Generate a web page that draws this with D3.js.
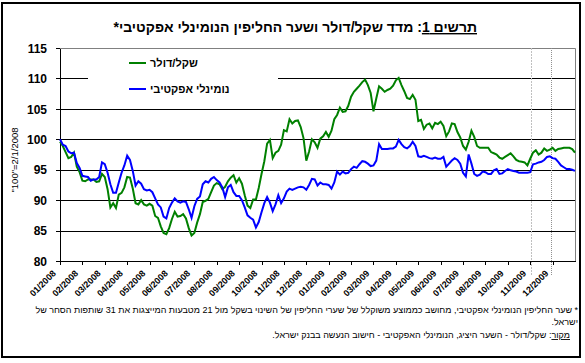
<!DOCTYPE html>
<html><head><meta charset="utf-8">
<script src="https://cdn.jsdelivr.net/npm/d3@7"></script>
<style>
body{margin:0;background:#fff}
svg{display:block}
text{font-family:Arial,"Liberation Sans","DejaVu Sans",sans-serif}
</style>
</head><body>
<svg id="chart" width="585" height="363"></svg>
<script>
// ---- data ----
const tickLabels = ["01/2008","02/2008","03/2008","04/2008","05/2008","06/2008","07/2008","08/2008","09/2008","10/2008","11/2008","12/2008",
  "01/2009","02/2009","03/2009","04/2009","05/2009","06/2009","07/2009","08/2009","10/2009","11/2009","12/2009"];
const pointsPerTick = 8;
const shekelDollar = [
 99.6, 98.9, 97.9, 96.9, 97.1, 97.8, 95.5, 94.6, 93.2, 93.1,
 93.4, 93.4, 93.4, 93.0, 93.1, 94.3, 93.8, 91.8, 88.8, 89.5,
 88.7, 90.9, 91.2, 92.1, 93.8, 93.7, 91.9, 89.5, 89.3, 90.0,
 89.3, 89.1, 89.4, 89.1, 87.4, 87.1, 85.7, 84.6, 84.4, 85.4,
 86.9, 88.1, 87.3, 87.4, 87.7, 87.0, 85.4, 84.2, 84.6, 86.3,
 87.7, 89.7, 89.9, 90.2, 91.3, 92.4, 92.8, 92.6, 91.8, 92.2,
 93.1, 93.7, 94.1, 92.9, 93.6, 92.7, 90.8, 89.1, 88.7, 90.1,
 90.1, 92.0, 94.3, 96.4, 99.3, 99.9, 96.9, 97.8, 98.1, 99.1,
 101.5, 101.3, 103.3, 102.6, 103.0, 103.1, 102.0, 100.2, 96.5, 98.0,
 100.0, 99.5, 98.6, 100.1, 100.5, 101.2, 100.4, 101.4, 103.3, 104.0,
 105.2, 104.5, 104.6, 105.5, 107.0, 107.8, 108.3, 108.8, 109.4, 109.8,
 108.9, 107.6, 104.6, 106.7, 108.7, 108.3, 107.8, 108.1, 108.3, 108.8,
 109.7, 110.1, 108.9, 107.9, 106.8, 106.6, 107.3, 106.5, 103.0, 103.2,
 101.7, 102.4, 102.6, 101.8, 102.7, 102.5, 102.9, 102.2, 100.5, 101.3,
 102.6, 102.5, 101.2, 100.3, 98.9, 98.3, 99.6, 101.4, 100.4, 98.9,
 98.6, 98.6, 98.6, 98.6, 97.9, 97.7, 97.5, 97.0, 96.8, 97.1,
 97.4, 97.7, 97.2, 96.6, 96.4, 96.3, 96.2, 95.7, 96.8, 97.8,
 98.2, 97.5, 97.8, 98.5, 98.1, 98.3, 98.6, 98.1, 98.4, 98.5,
 98.6, 98.6, 98.6, 98.4, 97.8];
const nominalEffective = [
 100.0, 99.1, 98.9, 98.0, 97.7, 97.8, 96.1, 95.3, 94.0, 93.9,
 93.8, 93.2, 93.4, 93.4, 93.8, 96.2, 95.9, 94.5, 92.6, 91.2,
 91.2, 92.9, 94.5, 95.7, 97.3, 96.6, 94.8, 92.4, 93.1, 92.7,
 91.8, 91.6, 91.7, 91.3, 90.3, 89.3, 88.8, 87.3, 87.0, 88.7,
 89.6, 90.3, 89.8, 89.6, 89.8, 89.7, 88.5, 87.1, 89.0, 90.2,
 90.6, 92.6, 93.1, 92.9, 93.5, 93.8, 93.3, 92.9, 92.1, 90.5,
 92.1, 92.5, 91.3, 90.7, 90.7, 90.0, 88.8, 87.5, 87.1, 86.8,
 85.5, 86.4, 88.0, 89.5, 90.5, 89.6, 88.2, 89.3, 90.8, 89.5,
 90.3, 91.4, 91.9, 91.7, 91.9, 92.1, 92.2, 92.1, 91.7, 92.5,
 93.5, 93.4, 92.4, 92.9, 92.6, 92.6, 92.5, 91.9, 92.9, 94.7,
 94.2, 94.7, 94.4, 94.5, 95.1, 95.5, 95.3, 95.9, 96.4, 96.3,
 96.0, 95.6, 95.7, 96.5, 99.2, 98.4, 98.4, 98.4, 98.5, 98.5,
 98.8, 99.9, 99.2, 98.7, 98.5, 98.9, 99.6, 98.9, 97.2, 97.1,
 97.3, 97.1, 96.9, 96.8, 97.0, 96.8, 96.8, 97.1, 95.5, 96.0,
 96.5, 96.9, 96.6, 96.0, 94.5, 93.9, 97.5, 96.0, 94.3, 94.0,
 94.2, 94.7, 94.6, 94.3, 94.3, 94.9, 95.1, 94.3, 94.4, 94.8,
 95.1, 94.9, 94.8, 94.7, 94.5, 94.5, 94.5, 94.5, 94.6, 95.9,
 96.0, 96.2, 96.3, 96.6, 97.1, 97.2, 96.9, 96.8, 96.3, 95.7,
 95.4, 95.1, 95.1, 95.0, 94.8];
const yTicks = [80, 85, 90, 95, 100, 105, 110, 115];
const markerPoints = [168.2, 175.4];
const seriesNames = ["שקל/דולר", "נומינלי אפקטיבי"];
const seriesColors = ["#008000", "#0000ff"];
const titleMain = "תרשים 1";
const titleRest = ": מדד שקל/דולר ושער החליפין הנומינלי אפקטיבי*";
const yTitle = "\"100\"=2/1/2008";
const note1 = "* שער החליפין הנומינלי אפקטיבי, מחושב כממוצע משוקלל של שערי החליפין של השינוי בשקל מול 21 מטבעות המייצגות את 31 שותפות הסחר של";
const note2 = "ישראל.";
const sourceLabel = "מקור";
const sourceText = ": שקל/דולר - השער היציג, הנומינלי האפקטיבי - חישוב הנעשה בבנק ישראל.";

// ---- layout ----
const svg = d3.select("#chart");
const L = 60, R = 575, T = 48, B = 261;
const n = shekelDollar.length;
const x = d3.scaleLinear().domain([0, n - 1]).range([L, R]);
const y = d3.scaleLinear().domain([80, 115]).range([B, T]);

// outer frame
svg.append("rect").attr("x", 2).attr("y", 3).attr("width", 578).attr("height", 354)
  .attr("fill", "#fff").attr("stroke", "#000").attr("stroke-width", 2);

// gridlines
svg.append("g").selectAll("line").data(yTicks.filter(v => v > 80 && v < 115)).join("line")
  .attr("x1", L).attr("x2", R).attr("y1", d => Math.round(y(d)) + 0.5).attr("y2", d => Math.round(y(d)) + 0.5)
  .attr("stroke", "#000").attr("stroke-width", 1);
// plot border top/right gray
svg.append("path").attr("d", `M${L},${T + 0.5}H${R + 0.5}V${B}`).attr("fill", "none")
  .attr("stroke", "#808080").attr("stroke-width", 1);

// legend background (covers gridline)
svg.append("rect").attr("x", 88).attr("y", 52).attr("width", 190).attr("height", 48).attr("fill", "#fff");

// marker dotted lines
svg.append("g").selectAll("line").data(markerPoints).join("line")
  .attr("x1", d => Math.round(x(d)) + 0.5).attr("x2", d => Math.round(x(d)) + 0.5)
  .attr("y1", T).attr("y2", 275)
  .attr("stroke", (d, i) => i === 0 ? "#c0c0c0" : "#909090")
  .attr("stroke-width", 1).attr("stroke-dasharray", (d, i) => i === 0 ? "2,1" : "1,1");

// axes
const tickIdx = tickLabels.map((d, i) => i * pointsPerTick);
const xAxis = svg.append("g").attr("transform", `translate(0,${B})`)
  .call(d3.axisBottom(x).tickValues(tickIdx).tickSize(4).tickSizeOuter(0)
    .tickFormat((d, i) => tickLabels[i]));
xAxis.select(".domain").attr("stroke", "#000").attr("shape-rendering", "crispEdges");
xAxis.selectAll(".tick line").attr("stroke", "#000").attr("shape-rendering", "crispEdges");
xAxis.selectAll(".tick text")
  .attr("font-size", 9).attr("font-weight", "bold").attr("fill", "#000")
  .attr("text-anchor", "end").attr("x", 0).attr("dx", 0).attr("y", 0).attr("dy", 0)
  .attr("transform", "translate(-4,13) rotate(-45)");

const yAxis = svg.append("g").attr("transform", `translate(${L},0)`)
  .call(d3.axisLeft(y).tickValues(yTicks).tickSize(4).tickSizeOuter(0).tickFormat(d3.format("d")));
yAxis.select(".domain").attr("stroke", "#000").attr("shape-rendering", "crispEdges");
yAxis.selectAll(".tick line").attr("stroke", "#000").attr("shape-rendering", "crispEdges");
yAxis.selectAll(".tick text").attr("font-size", 12).attr("font-weight", "bold").attr("fill", "#000")
  .attr("x", -13).attr("dy", "0.35em");

// y title
svg.append("text").attr("transform", "translate(18,160) rotate(-90)")
  .attr("text-anchor", "middle").attr("font-size", 9.5).attr("fill", "#000").text(yTitle);

// series lines
const line = d3.line().x((d, i) => x(i)).y(d => y(d));
[shekelDollar, nominalEffective].forEach((s, k) => {
  svg.append("path").datum(s).attr("d", line).attr("fill", "none")
    .attr("stroke", seriesColors[k]).attr("stroke-width", 2).attr("stroke-linejoin", "miter");
});

// legend
const legend = svg.append("g");
seriesNames.forEach((name, k) => {
  const ly = 63 + k * 26;
  legend.append("line").attr("x1", 129).attr("x2", 146).attr("y1", ly).attr("y2", ly)
    .attr("stroke", seriesColors[k]).attr("stroke-width", 2);
  legend.append("text").attr("x", 150).attr("y", ly + 4).attr("direction", "rtl")
    .attr("text-anchor", "end").attr("font-size", 11).attr("font-weight", "bold").attr("fill", "#000").text(name);
});

// title
const title = svg.append("text").attr("x", 477).attr("y", 32).attr("direction", "rtl")
  .attr("text-anchor", "start").attr("font-size", 14).attr("font-weight", "bold").attr("fill", "#000");
title.append("tspan").attr("text-decoration", "underline").text(titleMain);
title.append("tspan").text(titleRest);

// notes
svg.append("text").attr("x", 578).attr("y", 313).attr("direction", "rtl").attr("text-anchor", "start")
  .attr("font-size", 9).attr("fill", "#000").text(note1);
svg.append("text").attr("x", 578).attr("y", 325).attr("direction", "rtl").attr("text-anchor", "start")
  .attr("font-size", 9).attr("fill", "#000").text(note2);
const src = svg.append("text").attr("x", 570).attr("y", 338).attr("direction", "rtl").attr("text-anchor", "start")
  .attr("font-size", 9).attr("fill", "#000");
src.append("tspan").attr("text-decoration", "underline").text(sourceLabel);
src.append("tspan").text(sourceText);
</script>
</body></html>
